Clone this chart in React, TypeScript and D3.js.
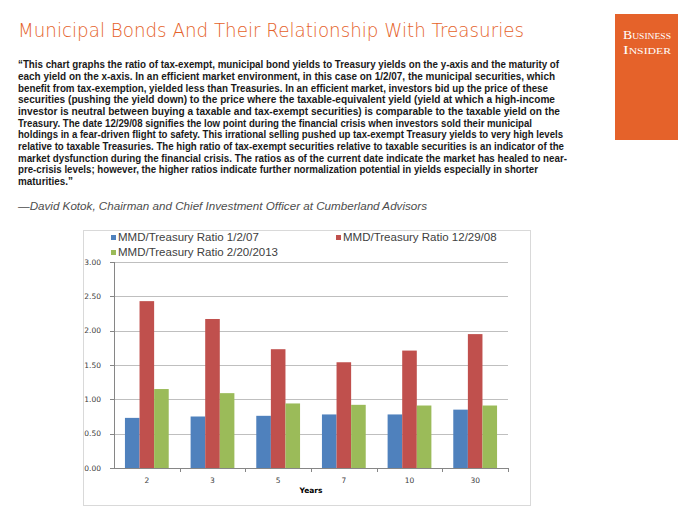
import React from "react";
import * as d3 from "d3";

const categories = ["2", "3", "5", "7", "10", "30"];
const seriesNames = [
  "MMD/Treasury Ratio 1/2/07",
  "MMD/Treasury Ratio 12/29/08",
  "MMD/Treasury Ratio 2/20/2013",
];
const ratio010207 = [0.73, 0.75, 0.76, 0.78, 0.78, 0.85];
const ratio122908 = [2.43, 2.17, 1.73, 1.54, 1.71, 1.95];
const ratio022013 = [1.15, 1.09, 0.94, 0.92, 0.91, 0.91];
const yTicks = [0, 0.5, 1, 1.5, 2, 2.5, 3];
const colors = ["#4f81bd", "#c0504d", "#9bbb59"];

const title = "Municipal Bonds And Their Relationship With Treasuries";
const quoteLines = [
  "\u201cThis chart graphs the ratio of tax-exempt, municipal bond yields to Treasury yields on the y-axis and the maturity of",
  "each yield on the x-axis. In an efficient market environment, in this case on 1/2/07, the municipal securities, which",
  "benefit from tax-exemption, yielded less than Treasuries. In an efficient market, investors bid up the price of these",
  "securities (pushing the yield down) to the price where the taxable-equivalent yield (yield at which a high-income",
  "investor is neutral between buying a taxable and tax-exempt securities) is comparable to the taxable yield on the",
  "Treasury. The date 12/29/08 signifies the low point during the financial crisis when investors sold their municipal",
  "holdings in a fear-driven flight to safety. This irrational selling pushed up tax-exempt Treasury yields to very high levels",
  "relative to taxable Treasuries. The high ratio of tax-exempt securities relative to taxable securities is an indicator of the",
  "market dysfunction during the financial crisis. The ratios as of the current date indicate the market has healed to near-",
  "pre-crisis levels; however, the higher ratios indicate further normalization potential in yields especially in shorter",
  "maturities.\u201d",
];
const quoteWidths = [541, 537, 530, 537, 542, 514, 545, 546, 549, 520, 55];
const attribution = "\u2014David Kotok, Chairman and Chief Investment Officer at Cumberland Advisors";

export default function App() {
  const W = 700, H = 525;
  const series = [ratio010207, ratio122908, ratio022013];
  const plot = { left: 114, right: 508, top: 262, bottom: 468 };
  const x0 = d3.scaleBand().domain(categories).range([plot.left, plot.right]).paddingInner(0).paddingOuter(0);
  const x1 = d3
    .scaleBand()
    .domain(["0", "1", "2"])
    .range([0, x0.bandwidth()])
    .paddingInner(0)
    .paddingOuter(0.75); // Excel gap width 150%
  const y = d3.scaleLinear().domain([0, 3]).range([plot.bottom, plot.top]);
  const fmt = d3.format(".2f");
  const orange = "#e5622a";
  const tickFont = "'DejaVu Sans', Verdana, sans-serif";

  return (
    <svg width={W} height={H} style={{ position: "absolute", left: 0, top: 0, background: "#fff" }}>
      <rect x={0} y={0} width={W} height={H} fill="#fff" />
      {/* Title */}
      <text x={18} y={37} fill={orange} fontFamily="'DejaVu Sans', sans-serif" fontWeight={200} fontSize={19.5}
        textLength={506} lengthAdjust="spacingAndGlyphs">{title}</text>
      {/* Logo */}
      <rect x={615} y={14} width={63} height={126} fill={orange} />
      <text x={623} y={39} fill="#fff" fontFamily="'Liberation Serif', 'DejaVu Serif', serif" fontSize={13}
        style={{ fontVariant: "small-caps" }} textLength={48} lengthAdjust="spacingAndGlyphs">Business</text>
      <text x={623} y={53.5} fill="#fff" fontFamily="'Liberation Serif', 'DejaVu Serif', serif" fontSize={13}
        style={{ fontVariant: "small-caps" }} textLength={48} lengthAdjust="spacingAndGlyphs">Insider</text>
      {/* Quote */}
      {quoteLines.map((l, i) => (
        <text key={i} x={18} y={68.3 + i * 11.67} fill="#1a1a1a" fontFamily="'Liberation Sans', Arial, sans-serif"
          fontWeight={700} fontSize={10} textLength={quoteWidths[i]} lengthAdjust="spacingAndGlyphs">{l}</text>
      ))}
      <text x={18} y={210} fill="#4d4d4d" fontFamily="'Liberation Sans', Arial, sans-serif" fontStyle="italic"
        fontSize={11} textLength={409} lengthAdjust="spacingAndGlyphs">{attribution}</text>

      {/* Chart frame */}
      <rect x={83.5} y={230.5} width={447} height={275} fill="#fff" stroke="#d9d9d9" strokeWidth={1} />

      {/* Gridlines */}
      {yTicks.map((t) => (
        <line key={t} x1={plot.left} x2={plot.right} y1={Math.round(y(t)) + 0.5} y2={Math.round(y(t)) + 0.5}
          stroke={t === 0 ? "#868686" : "#bfbfbf"} strokeWidth={1} />
      ))}
      {/* Y axis */}
      <line x1={plot.left + 0.5} x2={plot.left + 0.5} y1={plot.top} y2={plot.bottom} stroke="#868686" />
      {yTicks.map((t) => (
        <g key={"yt" + t}>
          <line x1={plot.left - 4} x2={plot.left} y1={Math.round(y(t)) + 0.5} y2={Math.round(y(t)) + 0.5} stroke="#868686" />
          <text x={101} y={y(t) + 2.8} textAnchor="end" fontFamily={tickFont} fontSize={7.5} fill="#404040">{fmt(t)}</text>
        </g>
      ))}
      {/* Bars */}
      {categories.map((c, ci) => (
        <g key={c} transform={`translate(${x0(c)},0)`}>
          {series.map((s, si) => (
            <rect key={si} x={x1(String(si))} y={y(s[ci])} width={x1.bandwidth()} height={y(0) - y(s[ci])} fill={colors[si]} />
          ))}
        </g>
      ))}
      {/* X axis ticks */}
      {categories.map((c) => (
        <line key={"xt" + c} x1={Math.round(x0(c)! + x0.bandwidth()) + 0.5} x2={Math.round(x0(c)! + x0.bandwidth()) + 0.5}
          y1={plot.bottom} y2={plot.bottom + 4} stroke="#868686" />
      ))}
      {categories.map((c) => (
        <text key={"xl" + c} x={x0(c)! + x0.bandwidth() / 2} y={483} textAnchor="middle" fontFamily={tickFont}
          fontSize={7.5} fill="#404040">{c}</text>
      ))}
      <text x={(plot.left + plot.right) / 2} y={493} textAnchor="middle" fontFamily={tickFont} fontWeight={700}
        fontSize={7.5} fill="#000">Years</text>

      {/* Legend */}
      {[
        { x: 111, y: 241, i: 0 },
        { x: 336, y: 241, i: 1 },
        { x: 111, y: 256, i: 2 },
      ].map((l) => (
        <g key={"lg" + l.i}>
          <rect x={l.x} y={l.y - 6} width={5} height={5} fill={colors[l.i]} />
          <text x={l.x + 7} y={l.y} fontFamily="'Liberation Sans', Arial, sans-serif" fontSize={11.5} fill="#404040">
            {seriesNames[l.i]}
          </text>
        </g>
      ))}
    </svg>
  );
}
